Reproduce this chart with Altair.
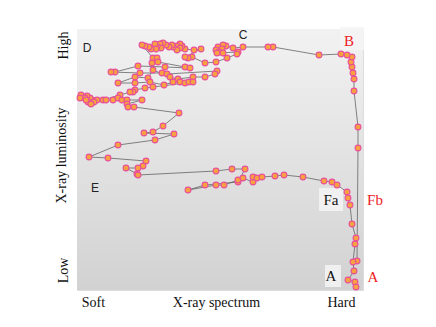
import altair as alt
import pandas as pd

# Hardness (arbitrary units, soft=0 .. hard=286) and luminosity (low=0 .. high=261), in track order
hardness = [
    280, 281, 281, 277, 277, 276, 275, 274, 275, 270, 264,
    242, 196, 191, 166, 156,
    149, 146, 141, 139, 145, 142, 146, 140, 161, 160, 150, 139, 128, 115, 111, 108,
    124, 117, 108, 105, 103, 100, 103, 100, 96, 95, 92, 89, 86, 83, 84, 80, 78, 79, 74, 72, 68, 65,
    76, 80, 75, 81, 108, 113, 88, 61, 38, 34, 63, 85, 90, 140, 138, 128, 116, 101, 93, 76, 71, 58,
    41, 58, 73, 87, 96, 103, 108, 112, 116, 76, 68, 58, 56, 53, 43,
    26, 20, 15, 13, 10, 6, 4, 8, 3, 11, 17, 14, 9, 29, 36, 41, 45, 50, 65, 50, 51, 57,
    102, 86, 76, 67, 97, 78, 41, 12, 31, 69, 66, 61, 49, 60, 61,
    139, 155, 168, 161, 128, 111, 139, 147, 161, 166, 176, 176, 180, 185, 198, 207, 226,
    247, 255, 260, 270, 271, 273, 275, 279, 278, 276, 277, 271, 278, 279,
]
luminosity = [
    29, 142, 163, 199, 211, 217, 223, 228, 233, 235, 236,
    235, 243, 243, 243, 242,
    244, 245, 243, 240, 241, 238, 237, 237, 238, 236, 232, 228, 227, 233, 232, 233,
    241, 240, 241, 244, 246, 244, 242, 240, 243, 245, 243, 245, 247, 246, 242, 243, 246, 241, 241, 243, 244, 245,
    232, 232, 227, 228, 223, 222, 223, 224, 218, 218, 217, 217, 216, 219, 216, 213, 213, 211, 213, 220, 212, 213,
    207, 207, 208, 205, 208, 208, 207, 208, 208, 203, 202, 200, 198, 198, 195,
    190, 190, 190, 192, 194, 193, 195, 192, 192, 188, 188, 186, 190, 190, 190, 192, 190, 190, 190, 186, 183, 183,
    177, 164, 158, 157, 156, 150, 145, 133, 132, 129, 124, 122, 122, 116, 115,
    119, 121, 121, 108, 105, 100, 105, 105, 110, 112, 108, 113, 112, 113, 114, 115, 113,
    109, 108, 105, 98, 92, 85, 66, 52, 46, 28, 19, 10, 8, 3,
]

# State labels
state_text = ["D", "C", "E"]
state_x = [10, 166, 18]
state_y = [242, 255, 102]

serif_text = ["B", "Fa", "A", "Fb", "A"]
serif_x = [272, 254, 254, 298, 296]
serif_y = [249, 90, 14, 90, 13]
serif_color = ["#ee1c25", "#111111", "#111111", "#ee1c25", "#ee1c25"]

# Light boxes behind some labels
box_x = [263, 242, 248]
box_x2 = [287, 266, 264]
box_y = [240, 79, 3]
box_y2 = [263, 102, 25]

X_DOMAIN = [0, 286]
Y_DOMAIN = [0, 261]

track = pd.DataFrame({"h": hardness, "l": luminosity, "i": list(range(len(hardness)))})
states = pd.DataFrame({"t": state_text, "x": state_x, "y": state_y})
serif = pd.DataFrame({"t": serif_text, "x": serif_x, "y": serif_y, "c": serif_color})
boxes = pd.DataFrame({"x": box_x, "x2": box_x2, "y": box_y, "y2": box_y2})

xs = alt.Scale(domain=X_DOMAIN, nice=False, zero=False)
ys = alt.Scale(domain=Y_DOMAIN, nice=False, zero=False)

x_axis = alt.Axis(
    values=[16, 264], labelExpr="datum.value < 100 ? 'Soft' : 'Hard'",
    ticks=False, domain=False, grid=False, labelFlush=False,
    labelFont="Liberation Serif", labelFontSize=14, labelColor="#111",
    labelPadding=5, labelBaseline="top",
    title="X-ray spectrum", titleFont="Liberation Serif", titleFontSize=14,
    titleFontWeight="normal", titleColor="#111", titleX=139, titleY=12,
    titleAlign="center", titleBaseline="middle",
)
y_axis = alt.Axis(
    values=[20, 245], labelExpr="datum.value < 100 ? 'Low' : 'High'",
    ticks=False, domain=False, grid=False, labelFlush=False,
    labelFont="Liberation Serif", labelFontSize=14, labelColor="#111",
    labelAngle=-90, labelAlign="center", labelBaseline="bottom", labelPadding=7,
    title="X-ray luminosity", titleFont="Liberation Serif", titleFontSize=14,
    titleFontWeight="normal", titleColor="#111", titleAngle=-90,
    titleX=-16, titleY=126, titleAlign="center", titleBaseline="middle",
)

bg = alt.Chart(pd.DataFrame({"a": [0]})).mark_rect(
    fill=alt.Gradient(
        gradient="linear",
        stops=[alt.GradientStop(color="#f2f2f2", offset=0), alt.GradientStop(color="#d2d2d2", offset=1)],
        x1=0, x2=0, y1=0, y2=1,
    )
).encode(
    x=alt.datum(X_DOMAIN[0], scale=xs, axis=x_axis),
    x2=alt.datum(X_DOMAIN[1]),
    y=alt.datum(Y_DOMAIN[0], scale=ys, axis=y_axis),
    y2=alt.datum(Y_DOMAIN[1]),
)

box = alt.Chart(boxes).mark_rect(fill="#f4f4f4", opacity=0.85).encode(
    x=alt.X("x:Q", scale=xs), x2="x2:Q", y=alt.Y("y:Q", scale=ys), y2="y2:Q"
)

line = alt.Chart(track).mark_line(color="#5c5c5c", strokeWidth=0.75).encode(
    x=alt.X("h:Q", scale=xs), y=alt.Y("l:Q", scale=ys), order="i:Q"
)

pts = alt.Chart(track).mark_circle(
    size=34, fill="#f7a23e", stroke="#e8509a", strokeWidth=1.1, opacity=1
).encode(x=alt.X("h:Q", scale=xs), y=alt.Y("l:Q", scale=ys))

state_lbl = alt.Chart(states).mark_text(
    font="Liberation Sans", fontSize=12, color="#222"
).encode(x=alt.X("x:Q", scale=xs), y=alt.Y("y:Q", scale=ys), text="t:N")

serif_lbl = alt.Chart(serif).mark_text(
    font="Liberation Serif", fontSize=15
).encode(
    x=alt.X("x:Q", scale=xs), y=alt.Y("y:Q", scale=ys), text="t:N",
    color=alt.Color("c:N", scale=None),
)

chart = alt.layer(bg, box, line, pts, state_lbl, serif_lbl).properties(
    width=286, height=261,
    autosize=alt.AutoSizeParams(type="none"),
    padding={"left": 69, "top": 21, "right": 65, "bottom": 29},
).configure_view(stroke=None).configure(background="white")

chart.save("out.html", embed_options={"renderer": "svg", "actions": False})
